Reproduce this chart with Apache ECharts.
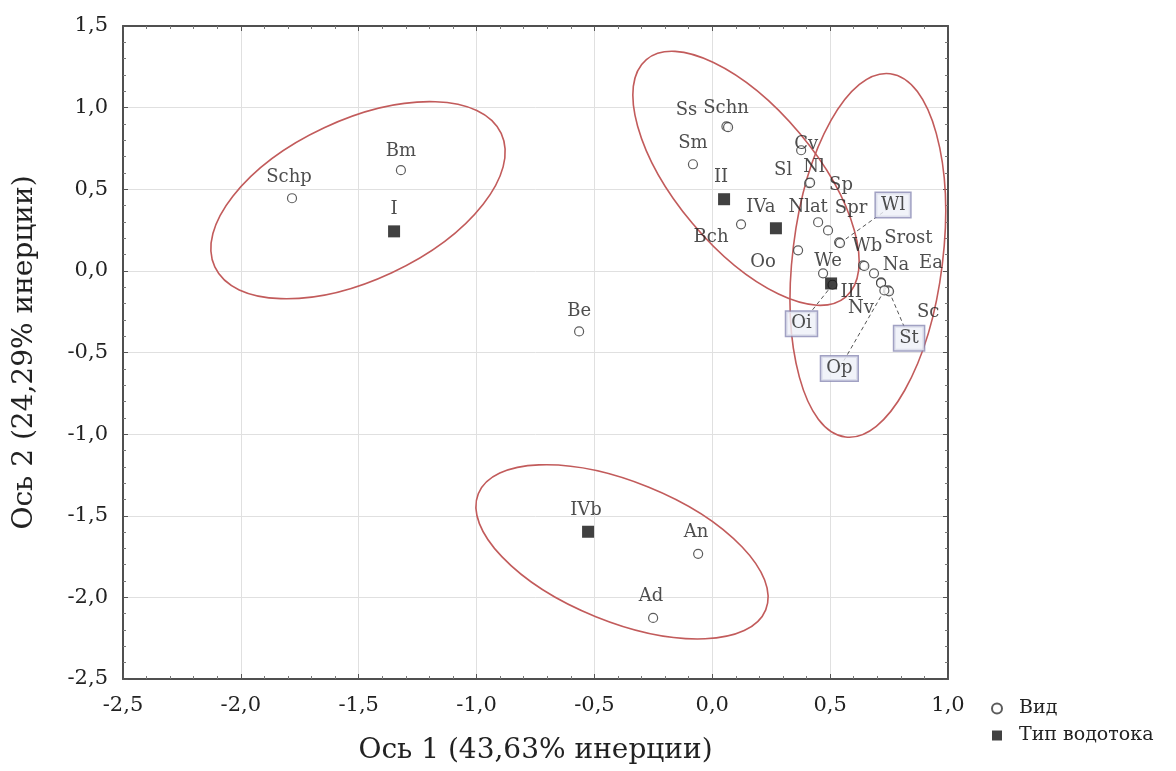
<!DOCTYPE html>
<html>
<head>
<meta charset="utf-8">
<script src="https://cdn.jsdelivr.net/npm/echarts@6/dist/echarts.min.js"></script>
<style>
    html, body { margin: 0; background: #fff; }
    #chart { width: 1176px; height: 771px; }
</style>
</head>
<body>
<div id="chart"></div>
<script>
// species (Вид) coordinates
const speciesNames = ['Schp', 'Bm', 'Be', 'An', 'Ad', 'Ss', 'Schn', 'Sm', 'Bch', 'Oo', 'Sl', 'Nl', 'Cv', 'Nlat',
    'Sp', 'Spr', 'Wl', 'Wb', 'Srost', 'We', 'Na', 'Ea', 'Sc', 'Nv', 'St', 'Op', 'Oi'];
const speciesX = [-1.783, -1.321, -0.565, -0.06, -0.251, 0.06, 0.067, -0.082, 0.122, 0.364, 0.411, 0.415, 0.377, 0.449,
    0.491, 0.538, 0.542, 0.64, 0.645, 0.47, 0.686, 0.716, 0.746, 0.716, 0.75, 0.73, 0.51];
const speciesY = [0.445, 0.617, -0.371, -1.733, -2.126, 0.885, 0.88, 0.653, 0.285, 0.126, 0.537, 0.54, 0.739, 0.298,
    0.248, 0.175, 0.17, 0.034, 0.03, -0.015, -0.015, -0.071, -0.12, -0.075, -0.125, -0.12, -0.085];

// stream types (Тип водотока)
const typeNames = ['I', 'II', 'IVa', 'III', 'IVb'];
const typeX = [-1.35, 0.05, 0.27, 0.504, -0.527];
const typeY = [0.242, 0.439, 0.261, -0.077, -1.598];

const xTitle = 'Ось 1 (43,63% инерции)';
const yTitle = 'Ось 2 (24,29% инерции)';

/*label placement, px from the point*/
const speciesLabelOffset = {
    Schp: [-3, -21], Bm: [0, -19], Be: [0, -20], An: [-2, -21], Ad: [-2, -22],
    Ss: [-40, -16], Schn: [-2, -19], Sm: [0, -21], Bch: [-30, 13], Oo: [-35, 12],
    Sl: [-26, -13], Nl: [4, -15], Cv: [5, -6], Nlat: [-10, -15], Sp: [13, -45],
    Spr: [12, -34], Wl: [53, -38], Wb: [4, -19], Srost: [44, -28], We: [5, -12],
    Na: [22, -8], Ea: [50, -19], Sc: [40, 22], Nv: [-20, 25], St: [20, 47],
    Op: [-45, 78], Oi: [-31, 39]
};
const typeLabelOffset = { I: [0, -22], II: [-3, -22], IVa: [-15, -21], III: [20, 9], IVb: [-2, -21] };
const boxedLabels = ['Wl', 'Oi', 'St', 'Op'];

/*ellipses: centre in axis units, radii in px, angle in degrees*/
const ellipses = [
    { center: [-1.503, 0.433], rx: 158, ry: 80, angle: 25 },
    { center: [-0.383, -1.721], rx: 155, ry: 70, angle: -22 },
    { center: [0.143, 0.567], rx: 155, ry: 70, angle: -50 },
    { center: [0.66, 0.095], rx: 183, ry: 75, angle: 83 }
];

const serif = "'DejaVu Serif', 'Liberation Serif', serif";
const chart = echarts.init(document.getElementById('chart'));

const fmt = function (v) {
    return v.toFixed(1).replace('.', ',');
};

function frameAxis(position, min, max, isMain) {
    return {
        type: 'value',
        position: position,
        min: min,
        max: max,
        interval: 0.5,
        axisLine: { show: true, onZero: false, lineStyle: { color: '#505050', width: 2 } },
        axisTick: { show: true, inside: true, length: 5, lineStyle: { color: '#555' } },
        minorTick: { show: true, splitNumber: 5, length: 3, lineStyle: { color: '#777' } },
        splitLine: { show: isMain, lineStyle: { color: '#e0e0e0' } },
        axisLabel: {
            show: isMain,
            formatter: fmt,
            fontFamily: serif,
            fontSize: 21,
            color: '#222'
        }
    };
}

const xMain = frameAxis('bottom', -2.5, 1.0, true);
xMain.axisLabel.margin = 16;
xMain.name = xTitle;
xMain.nameLocation = 'middle';
xMain.nameGap = 58;
xMain.nameTextStyle = { fontFamily: serif, fontSize: 28, color: '#222' };

const yMain = frameAxis('left', -2.5, 1.5, true);
yMain.axisLabel.margin = 15;
yMain.name = yTitle;
yMain.nameLocation = 'middle';
yMain.nameGap = 84;
yMain.nameTextStyle = { fontFamily: serif, fontSize: 28, color: '#222' };

function labelFor(name, offset) {
    const label = { offset: offset || [0, -20] };
    if (boxedLabels.indexOf(name) !== -1) {
        label.backgroundColor = '#eef0f8';
        label.borderColor = '#8a8ab4';
        label.borderWidth = 1.5;
        label.padding = [3, 5];
    }
    return label;
}

const speciesData = speciesNames.map(function (name, i) {
    return { name: name, value: [speciesX[i], speciesY[i]], label: labelFor(name, speciesLabelOffset[name]) };
});
const typeData = typeNames.map(function (name, i) {
    return { name: name, value: [typeX[i], typeY[i]], label: labelFor(name, typeLabelOffset[name]) };
});

const baseLabel = {
    show: true,
    position: 'inside',
    formatter: '{b}',
    fontFamily: serif,
    fontSize: 18,
    color: '#222'
};

chart.setOption({
    animation: false,
    backgroundColor: '#fff',
    grid: { left: 123, right: 228, top: 26, bottom: 92 },
    xAxis: [xMain, frameAxis('top', -2.5, 1.0, false)],
    yAxis: [yMain, frameAxis('right', -2.5, 1.5, false)],
    legend: {
        orient: 'vertical',
        left: 986,
        top: 694,
        itemWidth: 10,
        itemHeight: 10,
        itemGap: 8,
        textStyle: { fontFamily: serif, fontSize: 19, color: '#222', padding: [0, 0, 0, 12] },
        data: [{ name: 'Вид', icon: 'circle' }, { name: 'Тип водотока', icon: 'rect' }]
    },
    series: [
        {
            name: 'Вид',
            type: 'scatter',
            symbol: 'circle',
            symbolSize: 9,
            itemStyle: { color: '#fff', borderColor: '#333', borderWidth: 1.2 },
            label: baseLabel,
            data: speciesData,
            z: 3
        },
        {
            name: 'Тип водотока',
            type: 'scatter',
            symbol: 'rect',
            symbolSize: 12,
            itemStyle: { color: '#111' },
            label: baseLabel,
            data: typeData,
            z: 4
        }
    ]
});

/*ellipses and leader lines*/
(function () {
    const toPx = function (pt) {
        return chart.convertToPixel({ xAxisIndex: 0, yAxisIndex: 0 }, pt);
    };
    const elements = ellipses.map(function (e) {
        const c = toPx(e.center);
        return {
            type: 'ellipse',
            x: c[0],
            y: c[1],
            rotation: e.angle * Math.PI / 180,
            shape: { cx: 0, cy: 0, rx: e.rx, ry: e.ry },
            style: { fill: 'none', stroke: '#c25b5b', lineWidth: 1.6 },
            silent: true,
            z: 1
        };
    });

    boxedLabels.forEach(function (name) {
        const i = speciesNames.indexOf(name);
        const p = toPx([speciesX[i], speciesY[i]]);
        const off = speciesLabelOffset[name];
        elements.push({
            type: 'line',
            shape: { x1: p[0], y1: p[1], x2: p[0] + off[0], y2: p[1] + off[1] },
            style: { stroke: '#555', lineWidth: 1, lineDash: [4, 3] },
            silent: true,
            z: 1
        });
    });

    chart.setOption({ graphic: { elements: elements } });
})();

window.addEventListener('resize', function () {
    chart.resize();
});
</script>
</body>
</html>
